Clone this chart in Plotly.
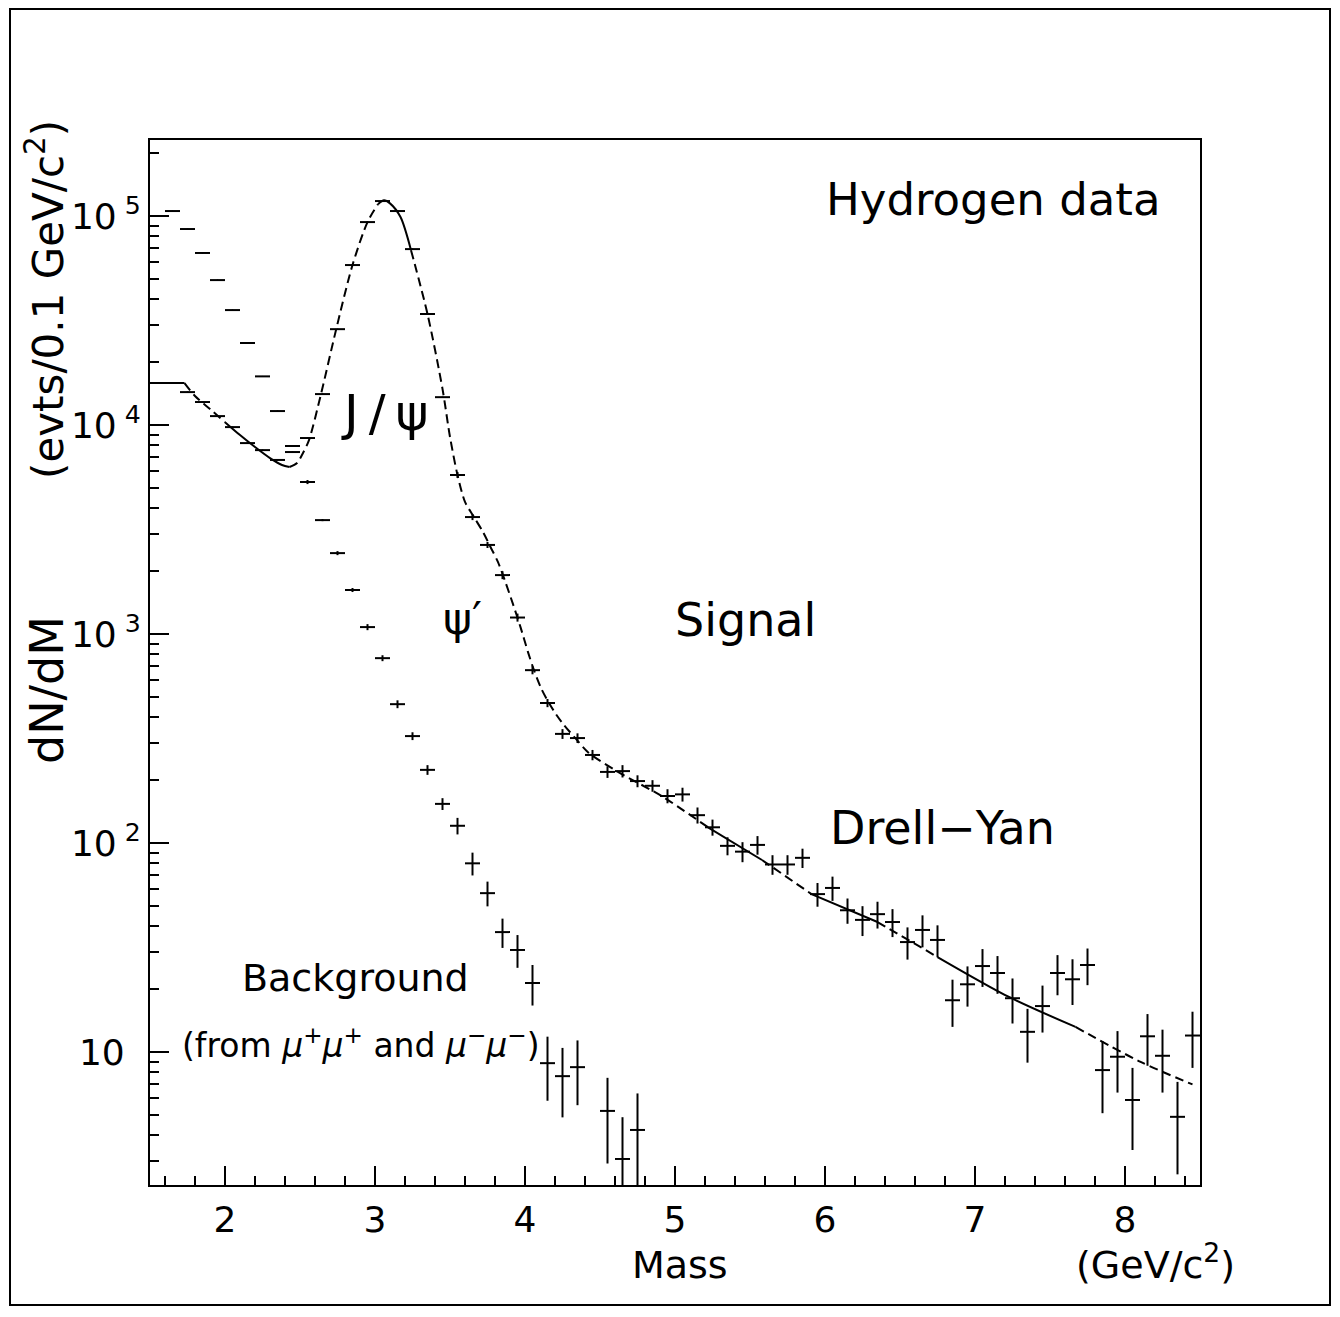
import plotly.graph_objects as go

# ---------------- data ----------------
# Background (like-sign pairs): bin centres in GeV/c^2, counts, errors
bg_mass = [1.65, 1.75, 1.85, 1.95, 2.05, 2.15, 2.25, 2.35, 2.45, 2.55,
           2.65, 2.75, 2.85, 2.95, 3.05, 3.15, 3.25, 3.35, 3.45, 3.55,
           3.65, 3.75, 3.85, 3.95, 4.05, 4.15, 4.25, 4.35, 4.55, 4.65, 4.75]
bg_counts = [105700, 86700, 66600, 49400, 35500, 24700, 17100, 11670, 7940, 5340,
             3510, 2440, 1625, 1080, 767, 462, 325, 224, 154, 121,
             80, 57.6, 37.5, 30.8, 21.4, 8.85, 7.67, 8.47, 5.23, 3.08, 4.24]
bg_err = [300, 250, 200, 160, 130, 100, 80, 60, 45, 120,
          40, 54, 36, 36, 25, 20, 14, 12, 10, 11,
          10, 7.8, 6, 5.5, 4.7, 3.0, 2.8, 2.9, 2.3, 1.8, 2.1]

# Signal (opposite-sign minus background)
sig_mass = [1.75, 1.85, 1.95, 2.05, 2.15, 2.25, 2.35, 2.45, 2.55, 2.65,
            2.75, 2.85, 2.95, 3.05, 3.15, 3.25, 3.35, 3.45, 3.55, 3.65,
            3.75, 3.85, 3.95, 4.05, 4.15, 4.25, 4.35, 4.45, 4.55, 4.65,
            4.75, 4.85, 4.95, 5.05, 5.15, 5.25, 5.35, 5.45, 5.55, 5.65,
            5.75, 5.85, 5.95, 6.05, 6.15, 6.25, 6.35, 6.45, 6.55, 6.65,
            6.75, 6.85, 6.95, 7.05, 7.15, 7.25, 7.35, 7.45, 7.55, 7.65,
            7.75, 7.85, 7.95, 8.05, 8.15, 8.25, 8.35, 8.45]
sig_counts = [14380, 12890, 11040, 9780, 8200, 7590, 6810, 7430, 8670, 14070,
              28770, 58300, 93600, 118000, 105700, 69500, 34000, 13600, 5770, 3630,
              2670, 1915, 1200, 672, 468, 333, 318, 264, 219, 221,
              198, 188, 168, 171, 136, 119, 97, 91, 98, 79,
              79, 85, 57, 61, 47.7, 42.9, 45.7, 41.9, 33.6, 38.4,
              34.4, 17.7, 21.1, 25.8, 23.9, 18.1, 12.5, 16.6, 23.9, 22.3,
              26.1, 8.2, 9.5, 5.9, 11.9, 9.6, 4.9, 12.0]
sig_err = [70, 65, 55, 50, 40, 38, 34, 37, 43, 70,
           140, 290, 470, 590, 530, 350, 170, 70, 190, 120,
           88, 84, 53, 30, 21, 18, 17, 15, 14, 15,
           13, 12, 13, 13, 12, 10.5, 9.6, 10, 10, 8.5,
           8.5, 9, 7.4, 8.1, 6.6, 7.0, 6.7, 6.4, 5.9, 6.7,
           6.0, 4.5, 4.6, 5.3, 4.9, 4.4, 3.6, 4.2, 5.2, 5.5,
           5.2, 3.1, 3.1, 2.5, 3.3, 3.2, 2.3, 3.6]

# Fit curve (J/psi + psi' + Drell-Yan)
fit_mass = [1.50, 1.73, 1.80, 1.90, 2.00, 2.10, 2.20, 2.30, 2.38, 2.43,
            2.48, 2.52, 2.56, 2.64, 2.74, 2.85, 2.95, 3.02, 3.06, 3.10,
            3.17, 3.24, 3.35, 3.45, 3.50, 3.55, 3.60, 3.66, 3.72, 3.77,
            3.82, 3.87, 3.92, 3.97, 4.02, 4.06, 4.11, 4.16, 4.21, 4.26,
            4.34, 4.42, 4.62, 4.91, 5.22, 5.58, 5.91, 6.35, 6.75, 7.23,
            7.67, 8.10, 8.45]
fit_counts = [15880, 15880, 13770, 11930, 10330, 8960, 7850, 6950, 6440, 6300,
              6580, 7350, 8480, 14070, 28500, 58300, 93600, 114000, 119000, 115000,
              98900, 68700, 34000, 14900, 8770, 5770, 4290, 3630, 3080, 2610,
              2210, 1770, 1390, 1080, 820, 672, 546, 468, 410, 367,
              315, 272, 219, 168, 119, 83, 57, 41.9, 28.5, 18.3,
              13.2, 9.0, 7.0]
# how the printed fit line alternates between solid and dashed pieces
fit_pieces = [(0, 1, "solid"), (1, 4, "dash"), (4, 9, "solid"), (9, 17, "dash"),
              (17, 21, "solid"), (21, 44, "dash"), (44, 45, "solid"), (45, 46, "dash"),
              (46, 47, "solid"), (47, 48, "dash"), (48, 50, "solid"), (50, 52, "dash")]

y_tickvals = [10, 100, 1000, 10000, 100000]
y_ticktext = ["10<sup>\u00a0\u00a0</sup>", "10<sup> 2</sup>", "10<sup> 3</sup>",
              "10<sup> 4</sup>", "10<sup> 5</sup>"]
x_tickvals = [2, 3, 4, 5, 6, 7, 8]

# ---------------- layout geometry ----------------
W, H = 1340, 1317
ML, MR, MT, MB = 150, 140, 140, 132
PW, PH = W - ML - MR, H - MT - MB


def px(x):
    return (x - ML) / PW


def py(y):
    return (H - MB - y) / PH


FONT = "DejaVu Sans"
fig = go.Figure()

fig.add_trace(go.Scatter(
    x=bg_mass, y=bg_counts, mode="markers",
    marker=dict(size=1, color="black"),
    error_x=dict(type="constant", value=0.05, color="black", thickness=2, width=0),
    error_y=dict(type="data", array=bg_err, color="black", thickness=2, width=0),
    showlegend=False, hoverinfo="skip"))

fig.add_trace(go.Scatter(
    x=sig_mass, y=sig_counts, mode="markers",
    marker=dict(size=1, color="black"),
    error_x=dict(type="constant", value=0.05, color="black", thickness=2, width=0),
    error_y=dict(type="data", array=sig_err, color="black", thickness=2, width=0),
    showlegend=False, hoverinfo="skip"))

for i0, i1, style in fit_pieces:
    fig.add_trace(go.Scatter(
        x=fit_mass[i0:i1 + 1], y=fit_counts[i0:i1 + 1], mode="lines",
        line=dict(color="black", width=2, shape="spline", smoothing=0.8,
                  dash="9px,5px" if style == "dash" else "solid"),
        showlegend=False, hoverinfo="skip"))

minor_y = [m * 10 ** k for k in range(0, 6) for m in range(2, 10)]

fig.update_layout(
    width=W, height=H,
    margin=dict(l=ML, r=MR, t=MT, b=MB),
    paper_bgcolor="white", plot_bgcolor="white",
    font=dict(family=FONT, color="black"),
    xaxis=dict(range=[1.5, 8.5], tickvals=x_tickvals, ticks="inside", ticklen=19,
               tickwidth=2, tickcolor="black", showline=True, linecolor="black",
               linewidth=2, mirror=True, showgrid=False, zeroline=False,
               tickfont=dict(size=36, family=FONT), ticklabelstandoff=2,
               minor=dict(dtick=0.2, ticks="inside", ticklen=9, tickwidth=2,
                          tickcolor="black", showgrid=False)),
    yaxis=dict(type="log", range=[0.364, 5.364], tickvals=y_tickvals,
               ticktext=y_ticktext, ticks="inside", ticklen=19, tickwidth=2,
               tickcolor="black", showline=True, linecolor="black", linewidth=2,
               mirror=True, showgrid=False, zeroline=False,
               tickfont=dict(size=36, family=FONT),
               minor=dict(tickvals=minor_y, ticks="inside", ticklen=9, tickwidth=2,
                          tickcolor="black", showgrid=False)),
)


def note(text, x, y, size, angle=0):
    fig.add_annotation(text=text, x=px(x), y=py(y), xref="paper", yref="paper",
                       showarrow=False, textangle=angle,
                       font=dict(size=size, family=FONT, color="black"),
                       xanchor="center", yanchor="middle")


note("Hydrogen data", 993, 200, 45)
note("J\u2009/\u2009\u03c8", 385, 413, 50)
note("\u03c8\u2032", 462, 618, 44)
note("Signal", 745, 620, 46)
note("Drell\u2212Yan", 942, 828, 46)
note("Background", 355, 978, 38)
note("(from <i>\u03bc</i><sup>+</sup><i>\u03bc</i><sup>+</sup> and "
     "<i>\u03bc</i><sup>\u2212</sup><i>\u03bc</i><sup>\u2212</sup>)", 361, 1043, 33)
note("dN/dM", 47, 690, 46, -90)
note("(evts/0.1 GeV/c<sup>2</sup>)", 45, 300, 42, -90)
note("Mass", 680, 1265, 38)
note("(GeV/c<sup>2</sup>)", 1155, 1262, 38)

# page border
fig.add_shape(type="rect", xref="paper", yref="paper",
              x0=px(10), x1=px(1330), y0=py(1305), y1=py(9),
              line=dict(color="black", width=2), fillcolor="rgba(0,0,0,0)")

fig.write_html("out.html", config={"displayModeBar": False},
               post_script="document.body.style.margin='0';")
